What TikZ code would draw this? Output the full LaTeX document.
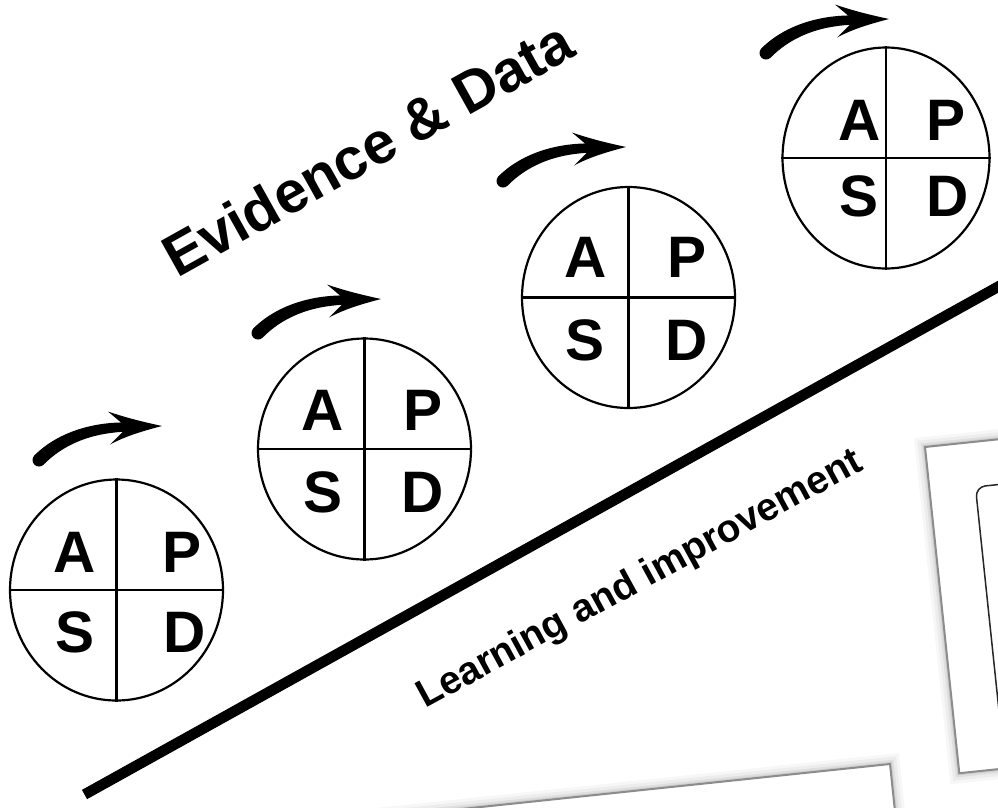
\documentclass[tikz,border=0pt]{standalone}
\usepackage{fontspec}
\setmainfont{Liberation Sans}
\usetikzlibrary{shapes.geometric}
\begin{document}
\begin{tikzpicture}[x=1pt,y=-1pt,
  pdsa/.style={draw, ellipse, line width=2.2pt, minimum width=213pt, minimum height=221pt, inner sep=0pt},
  quad/.style={line width=2.2pt},
  lett/.style={anchor=base, inner sep=0pt, font=\fontsize{58.5}{58}\selectfont\bfseries},
  frame/.style={fill=white, draw=black!45, line width=2pt},
  shade/.style={fill=black, opacity=#1},
  cycarrow/.pic={
    \fill (0,0) circle (6.5);
    \fill (-4.6,-4.6) .. controls (20.4,-29.6) and (58,-38.5) .. (90,-37.5)
       -- (90,-28.5) .. controls (60,-27.5) and (29.6,-20.4) .. (4.6,4.6) -- cycle;
    \fill (123,-34) .. controls (100,-39) and (85,-43) .. (69,-48.5)
       -- (88,-32.5) -- (71,-15.5) .. controls (85,-23) and (100,-28) .. cycle;
  }]
\useasboundingbox (0,0) rectangle (998,807);

% background frames
\begin{scope}[shift={(925,447)}, rotate=6]
  \foreach \r/\o in {10/0.03,7/0.04,4/0.06,2/0.08}
    \fill[shade=\o] (-\r,-\r) rectangle (340+\r,328+\r);
  \draw[frame] (0,0) rectangle (340,328);
  \draw[black!85, line width=1.5pt, rounded corners=10pt] (46,45) rectangle (330,283);
\end{scope}
\begin{scope}[shift={(890,764)}, rotate=6]
  \foreach \r/\o in {10/0.03,7/0.04,4/0.06,2/0.08}
    \fill[shade=\o] (-540-\r,-\r) rectangle (\r,300+\r);
  \draw[frame] (-540,0) rectangle (0,300);
\end{scope}

% dividing line
\coordinate (ls) at (84.5,794.5);
\coordinate (le) at (1012,279);
\draw[line width=10.6pt] (ls) -- (le);

% texts
\node[anchor=base west, inner sep=0pt, rotate=29.2, font=\fontsize{58.6}{60}\selectfont\bfseries] (ed) at (177,279) {Evidence \& Data};
\node[anchor=base west, inner sep=0pt, rotate=28.6, font=\fontsize{39}{40}\selectfont\bfseries] (li) at (425,709) {Learning and improvement};

% cycles
\node[pdsa] (c1) at (116.5,590) {};
\node[pdsa] (c2) at (364.5,449) {};
\node[pdsa] (c3) at (628.5,297.5) {};
\node[pdsa, minimum width=207pt] (c4) at (886,158) {};
\foreach \c in {c1,c2,c3,c4}{
  \draw[quad] (\c.north) -- (\c.south);
  \draw[quad] (\c.west) -- (\c.east);
}

\node[lett] (c1a) at (75,572) {A};
\node[lett] (c1p) at (182,572) {P};
\node[lett] (c1s) at (75,652) {S};
\node[lett] (c1d) at (185,652) {D};

\node[lett] (c2a) at (323,430) {A};
\node[lett] (c2p) at (423,430) {P};
\node[lett] (c2s) at (323,512) {S};
\node[lett] (c2d) at (423,512) {D};

\node[lett] (c3a) at (586,277) {A};
\node[lett] (c3p) at (687,277) {P};
\node[lett] (c3s) at (585,360) {S};
\node[lett] (c3d) at (687,360) {D};

\node[lett] (c4a) at (860,140) {A};
\node[lett] (c4p) at (946,140) {P};
\node[lett] (c4s) at (859,216) {S};
\node[lett] (c4d) at (948,216) {D};

% arrows
\coordinate (a1s) at (39,460);
\coordinate (a2s) at (258,333);
\coordinate (a3s) at (503,181);
\coordinate (a4s) at (766,53);
\foreach \a in {a1,a2,a3,a4}
  \pic at (\a s) {cycarrow};
\end{tikzpicture}
\end{document}
